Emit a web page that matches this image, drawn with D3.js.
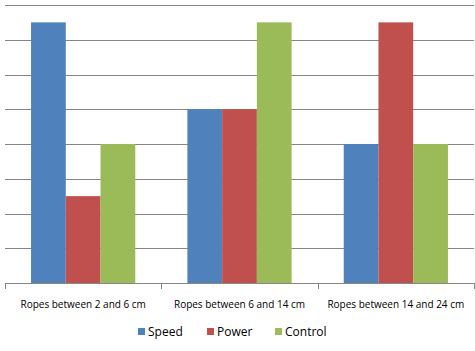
<!DOCTYPE html>
<html>
<head>
<meta charset="utf-8">
<script src="https://cdn.jsdelivr.net/npm/d3@7"></script>
<style>
  body { margin: 0; background: #fff; }
  text { font-family: "Open Sans", sans-serif; fill: #000; }
</style>
</head>
<body>
<div id="chart"></div>
<script>
// Data
var categories = ['Ropes between 2 and 6 cm', 'Ropes between 6 and 14 cm', 'Ropes between 14 and 24 cm'];
var seriesNames = ['Speed', 'Power', 'Control'];
var speed = [7.5, 5, 4];
var power = [2.5, 5, 7.5];
var control = [4, 7.5, 4];
var gridTicks = [1, 2, 3, 4, 5, 6, 7, 8];

var seriesValues = [speed, power, control];
var colors = ['#4F81BD', '#C0504D', '#9BBB59'];

var W = 475, H = 351;
var plotLeft = 5, plotRight = 474, plotTop = 5, plotBottom = 283;

var svg = d3.select('#chart').append('svg')
  .attr('width', W)
  .attr('height', H);

var x0 = d3.scaleBand()
  .domain(categories)
  .range([plotLeft, plotRight])
  .padding(0);

var x1 = d3.scaleBand()
  .domain(seriesNames)
  .range([0, x0.bandwidth()])
  .paddingInner(0)
  .paddingOuter(0.75);

var y = d3.scaleLinear()
  .domain([0, 8])
  .range([plotBottom, plotTop]);

var z = d3.scaleOrdinal().domain(seriesNames).range(colors);

// gridlines
svg.append('g')
  .selectAll('line')
  .data(gridTicks)
  .enter()
  .append('line')
   .attr('x1', plotLeft)
   .attr('x2', plotRight)
   .attr('y1', function(d) { return Math.round(y(d)) + 0.5; })
   .attr('y2', function(d) { return Math.round(y(d)) + 0.5; })
   .attr('stroke', '#868686')
   .attr('stroke-width', 1);

// bars
var rows = categories.map(function(c, i) {
  return {cat: c, values: seriesNames.map(function(s, j) {
    return {key: s, value: seriesValues[j][i]};
  })};
});

svg.append('g')
  .selectAll('g')
  .data(rows)
  .enter()
  .append('g')
   .attr('transform', function(d) { return 'translate(' + x0(d.cat) + ',0)'; })
  .selectAll('rect')
  .data(function(d) { return d.values; })
  .enter()
  .append('rect')
   .attr('x', function(d) { return x1(d.key); })
   .attr('y', function(d) { return y(d.value); })
   .attr('width', x1.bandwidth())
   .attr('height', function(d) { return y(0) - y(d.value); })
   .attr('fill', function(d) { return z(d.key); });

// x axis line + category boundary ticks
var axis = svg.append('g');
axis.append('line')
  .attr('x1', plotLeft).attr('x2', plotRight)
  .attr('y1', plotBottom + 0.5).attr('y2', plotBottom + 0.5)
  .attr('stroke', '#868686');

var edges = categories.map(function(c) { return x0(c); }).concat([plotRight]);
axis.selectAll('.tick')
  .data(edges)
  .enter()
  .append('line')
   .attr('x1', function(d) { return Math.round(d) + 0.5; })
   .attr('x2', function(d) { return Math.round(d) + 0.5; })
   .attr('y1', plotBottom)
   .attr('y2', plotBottom + 6)
   .attr('stroke', '#868686');

axis.selectAll('text')
  .data(categories)
  .enter()
  .append('text')
   .attr('x', function(d) { return x0(d) + x0.bandwidth() / 2; })
   .attr('y', 308)
   .attr('text-anchor', 'middle')
   .style('font-size', '10px')
   .text(function(d) { return d; });

// legend
var legendX = [138, 207, 275];
var legend = svg.append('g')
  .selectAll('g')
  .data(seriesNames)
  .enter()
  .append('g')
   .attr('transform', function(d, i) { return 'translate(' + legendX[i] + ',328)'; });

legend.append('rect')
  .attr('width', 7)
  .attr('height', 7)
  .attr('fill', z);

legend.append('text')
  .attr('x', 10)
  .attr('y', 8)
  .style('font-size', '12px')
  .text(function(d) { return d; });
</script>
</body>
</html>
